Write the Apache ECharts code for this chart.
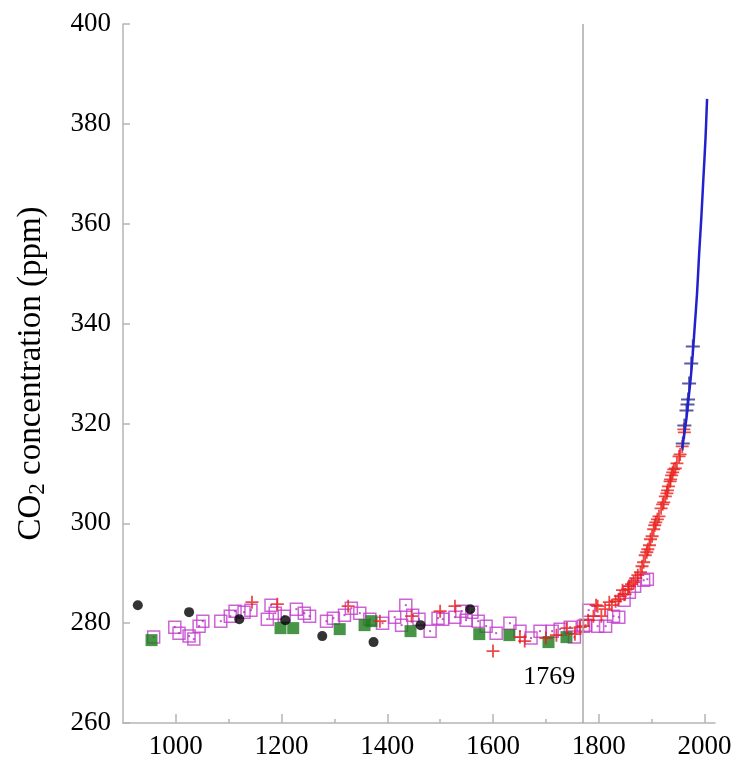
<!DOCTYPE html>
<html lang="en">
	<head>
		<meta charset="UTF-8" />
		<script src="https://cdn.jsdelivr.net/npm/echarts@6/dist/echarts.min.js"></script>
		<style>
			html, body { margin: 0; padding: 0; background: #fff; }
			#main { width: 737px; height: 760px; }
		</style>
	</head>
	<body>
		<div id="main"></div>
		<script>
			// data: [year, ppm]
			var lawDomeSquares = [
				[958, 277.2], [998, 279.2], [1006, 278], [1025, 277.4], [1034, 276.8], [1044, 279.4],
				[1051, 280.4], [1085, 280.4], [1103, 281.4], [1112, 282.4], [1129, 282.2], [1142, 282.6],
				[1173, 280.8], [1180, 283.6], [1188, 282], [1205, 281.4], [1228, 282.8], [1243, 282],
				[1253, 281.4], [1285, 280.4], [1298, 281], [1319, 281.6], [1332, 283], [1348, 282],
				[1367, 280.8], [1391, 280], [1414, 281.2], [1427, 279.6], [1435, 283.6], [1448, 281.6],
				[1460, 280.8], [1481, 278.4], [1496, 281], [1505, 280.8], [1528, 281.2], [1541, 282.4],
				[1549, 280.6], [1560, 282.2], [1572, 280.4], [1587, 279.4], [1606, 278], [1632, 280],
				[1651, 278.4], [1672, 277], [1689, 278.4], [1712, 278.4], [1727, 278.8], [1746, 279.2],
				[1754, 277.2], [1771, 279.4], [1775, 279.6], [1781, 282.6], [1798, 279.4], [1813, 279.4],
				[1828, 281.4], [1838, 281.2], [1848, 284.6], [1858, 286.2], [1868, 287.4], [1885, 288.6],
				[1892, 288.8]
			];
			var blackCircles = [
				[928, 283.6], [1025, 282.2], [1120, 280.8], [1207, 280.6], [1277, 277.4],
				[1374, 276.2], [1463, 279.6], [1557, 282.8]
			];
			var greenSquares = [
				[954, 276.6], [1198, 279], [1222, 279], [1310, 278.8], [1357, 279.6], [1370, 280.4],
				[1444, 278.4], [1574, 277.8], [1631, 277.6], [1705, 276.2], [1739, 277.2]
			];
			var redPlus = [
				[1144, 284.2], [1192, 283.8], [1326, 283.4], [1386, 280.4], [1446, 281.4], [1500, 282.4],
				[1528, 283.4], [1600, 274.4], [1651, 277.2], [1660, 276.4], [1700, 277], [1720, 277.6],
				[1740, 279], [1755, 277.8], [1765, 279.2],
				[1771, 279.4], [1780, 280.6], [1790, 281.4], [1795, 283.6], [1798, 283.4], [1805, 281.4],
				[1812, 282.8], [1820, 284.2], [1825, 283.6], [1832, 284.4], [1838, 284.8], [1841, 285.4],
				[1845, 286.6], [1850, 285.8], [1855, 286.8], [1858, 287.4], [1862, 287.8], [1866, 288.2],
				[1870, 289], [1874, 289.6], [1879, 290.2], [1882, 291.4], [1885, 292.2], [1888, 293.6],
				[1891, 294.2], [1893, 294.8], [1896, 295.6], [1898, 296.8], [1901, 297.4], [1904, 298.8],
				[1906, 299.6], [1908, 300.2], [1911, 300.8], [1914, 301.4], [1918, 303], [1921, 303.8],
				[1923, 304.2], [1926, 305.4], [1929, 306], [1930, 306.6], [1932, 307.4], [1935, 308.4],
				[1936, 308.8], [1938, 309.6], [1940, 310.2], [1942, 310.8], [1945, 311], [1948, 312],
				[1952, 313.4], [1954, 313.8], [1958, 315.4], [1961, 318.8], [1962, 318.2]
			];
			var bluePlus = [
				[1959, 316], [1962, 319.6], [1966, 322.6], [1968, 323.8], [1969, 324.8],
				[1971, 328], [1975, 332], [1978, 335.4]
			];
			var maunaLoa = [
				[1958, 315], [1962, 318], [1966, 321], [1970, 325], [1974, 329], [1978, 334],
				[1982, 340], [1986, 346], [1990, 354], [1994, 361], [1998, 369], [2002, 377], [2005, 385]
			];
			var markYear = 1769;
			var markLabelAt = [[1769, 269.2]];
			var xMajorTicks = [1000, 1200, 1400, 1600, 1800, 2000];
			var xMinorTicks = [1100, 1300, 1500, 1700, 1900];

			var serif = 'Liberation Serif';
			var plusPath = 'path://M4.3,0H5.7V4.3H10V5.7H5.7V10H4.3V5.7H0V4.3H4.3Z';
			var axisGray = '#b5b5b5';

			var myChart = echarts.init(document.getElementById('main'));
			myChart.setOption({
				backgroundColor: '#fff',
				animation: false,
				grid: { left: 123, right: 22, top: 24, bottom: 36 },
				xAxis: [
					{
						type: 'value', min: 900, max: 2020, interval: 100,
						axisLine: { lineStyle: { color: axisGray, width: 1.5 } },
						axisTick: { inside: true, length: 9, customValues: xMajorTicks, lineStyle: { color: axisGray, width: 1.5 } },
						axisLabel: {
							customValues: xMajorTicks, color: '#000', fontFamily: serif, fontSize: 27, margin: 10,
							formatter: function (v) { return String(v); }
						},
						splitLine: { show: false }
					},
					{
						type: 'value', min: 900, max: 2020, interval: 100, position: 'bottom',
						axisLine: { show: false },
						axisTick: { inside: true, length: 4, customValues: xMinorTicks, lineStyle: { color: axisGray, width: 1.5 } },
						axisLabel: { show: false },
						splitLine: { show: false }
					}
				],
				yAxis: {
					type: 'value', min: 260, max: 400, interval: 20,
					name: '{a|CO}{b|2}{a| concentration (ppm)}',
					nameLocation: 'middle', nameGap: 74,
					nameTextStyle: {
						rich: {
							a: { fontFamily: serif, fontSize: 33, color: '#000' },
							b: { fontFamily: serif, fontSize: 23, color: '#000', padding: [12, 0, 0, 0] }
						}
					},
					axisLine: { show: true, lineStyle: { color: axisGray, width: 1.5 } },
					axisTick: { show: true, inside: true, length: 7, lineStyle: { color: axisGray, width: 1.5 } },
					axisLabel: { color: '#000', fontFamily: serif, fontSize: 27, margin: 12 },
					splitLine: { show: false }
				},
				series: [
					{
						name: 'Law Dome', type: 'scatter', data: lawDomeSquares,
						symbol: 'rect', symbolSize: 12,
						itemStyle: { color: 'rgba(0,0,0,0)', borderColor: '#c23ccc', borderWidth: 1.5 }
					},
					{
						name: 'Law Dome dots', type: 'scatter', data: lawDomeSquares,
						symbol: 'rect', symbolSize: 2, itemStyle: { color: '#b030b8' }
					},
					{
						name: 'green', type: 'scatter', data: greenSquares,
						symbol: 'rect', symbolSize: 12, itemStyle: { color: '#1a7a1a' }
					},
					{
						name: 'black', type: 'scatter', data: blackCircles,
						symbol: 'circle', symbolSize: 10, itemStyle: { color: '#000' }
					},
					{
						name: 'red', type: 'scatter', data: redPlus,
						symbol: plusPath, symbolSize: 13, itemStyle: { color: '#e81e1a' }
					},
					{
						name: 'blue', type: 'scatter', data: bluePlus,
						symbol: plusPath, symbolSize: 14, itemStyle: { color: '#303090' }
					},
					{
						name: 'Mauna Loa', type: 'line', data: maunaLoa, smooth: 0.3,
						showSymbol: false, lineStyle: { color: '#2222cc', width: 2.5 },
						markLine: {
							silent: true, symbol: 'none', animation: false,
							label: { show: false },
							lineStyle: { color: '#aaaaaa', width: 1.5, type: 'solid' },
							data: [{ xAxis: markYear }]
						}
					},
					{
						name: 'label', type: 'scatter', data: markLabelAt, symbolSize: 0,
						itemStyle: { opacity: 1 },
						label: {
							show: true, position: 'left', distance: 7,
							formatter: String(markYear),
							fontFamily: serif, fontSize: 26, color: '#000', opacity: 1
						}
					}
				]
			});
		</script>
	</body>
</html>
